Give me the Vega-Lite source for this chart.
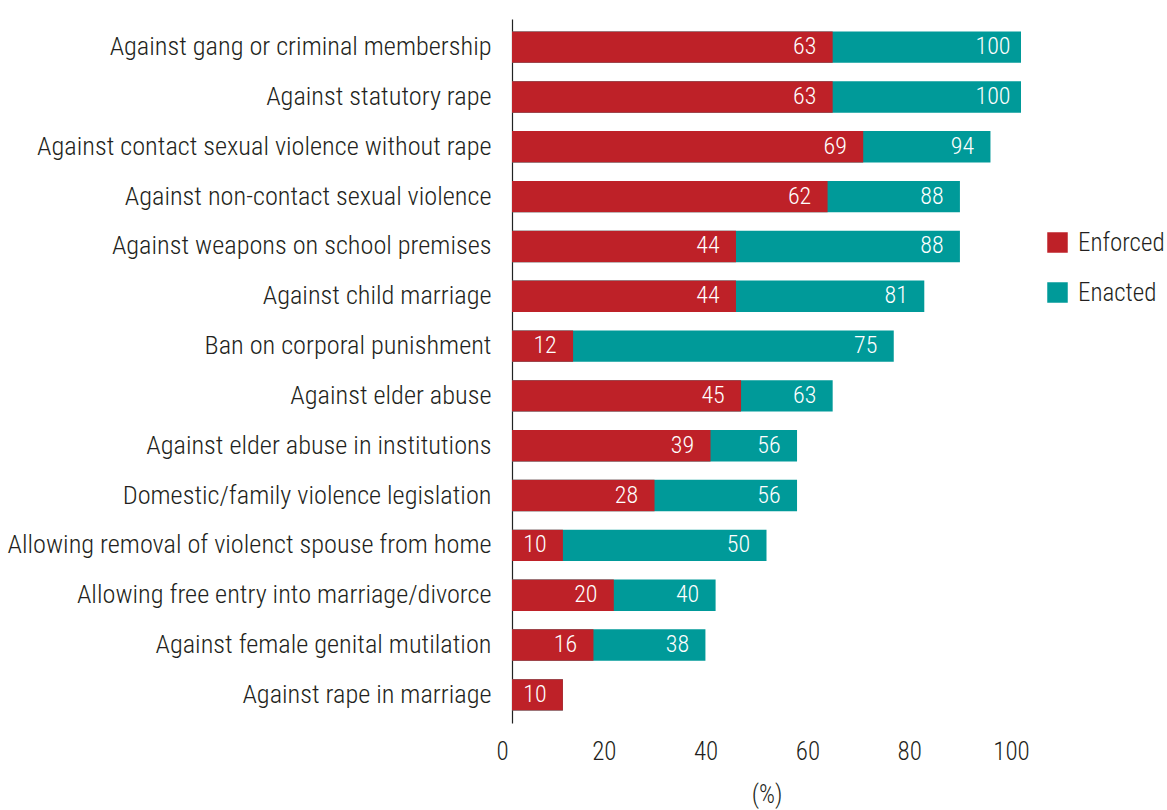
{
  "$schema": "https://vega.github.io/schema/vega-lite/v6.json",
  "autosize": "none",
  "width": 509,
  "height": 704,
  "padding": {"left": 512, "top": 19, "right": 146, "bottom": 87},
  "background": "white",
  "config": {
    "view": {"stroke": null},
    "font": "Roboto Condensed, DejaVu Sans Condensed, Liberation Sans Narrow, Roboto, sans-serif"
  },
  "data": {
    "values": [
      {"policy": "Against gang or criminal membership", "Enforced": 63, "Enacted": 100},
      {"policy": "Against statutory rape", "Enforced": 63, "Enacted": 100},
      {"policy": "Against contact sexual violence without rape", "Enforced": 69, "Enacted": 94},
      {"policy": "Against non-contact sexual violence", "Enforced": 62, "Enacted": 88},
      {"policy": "Against weapons on school premises", "Enforced": 44, "Enacted": 88},
      {"policy": "Against child marriage", "Enforced": 44, "Enacted": 81},
      {"policy": "Ban on corporal punishment", "Enforced": 12, "Enacted": 75},
      {"policy": "Against elder abuse", "Enforced": 45, "Enacted": 63},
      {"policy": "Against elder abuse in institutions", "Enforced": 39, "Enacted": 56},
      {"policy": "Domestic/family violence legislation", "Enforced": 28, "Enacted": 56},
      {"policy": "Allowing removal of violenct spouse from home", "Enforced": 10, "Enacted": 50},
      {"policy": "Allowing free entry into marriage/divorce", "Enforced": 20, "Enacted": 40},
      {"policy": "Against female genital mutilation", "Enforced": 16, "Enacted": 38},
      {"policy": "Against rape in marriage", "Enforced": 10, "Enacted": 10}
    ]
  },
  "transform": [{"fold": ["Enacted", "Enforced"], "as": ["type", "value"]}],
  "encoding": {
    "y": {
      "field": "policy",
      "type": "nominal",
      "sort": null,
      "scale": {"paddingInner": 0.37, "paddingOuter": 0.25},
      "axis": {
        "title": null,
        "ticks": false,
        "domainColor": "#222222",
        "domainWidth": 1.2,
        "labelFontSize": 26.3,
        "labelFontWeight": 300,
        "labelColor": "#231f20",
        "labelPadding": 21,
        "labelLimit": 600
      }
    },
    "x": {
      "field": "value",
      "type": "quantitative",
      "stack": null,
      "scale": {"domain": [0, 100], "nice": false},
      "axis": {
        "title": "(%)",
        "values": [0, 20, 40, 60, 80, 100],
        "domain": false,
        "ticks": false,
        "grid": false,
        "labelFlush": false,
        "labelFontSize": 25,
        "labelFontWeight": 300,
        "labelColor": "#231f20",
        "labelPadding": 16,
        "labelOffset": -10,
        "titleFontSize": 25,
        "titleFontWeight": 300,
        "titleColor": "#231f20",
        "titlePadding": 18
      }
    }
  },
  "layer": [
    {
      "mark": {"type": "bar"},
      "encoding": {
        "color": {
          "field": "type",
          "type": "nominal",
          "scale": {"domain": ["Enforced", "Enacted"], "range": ["#be2128", "#009a99"]},
          "legend": {
            "title": null,
            "orient": "none",
            "legendX": 533,
            "legendY": 211,
            "symbolType": "square",
            "symbolSize": 420,
            "symbolStrokeWidth": 0,
            "labelFontSize": 25,
            "labelFontWeight": 300,
            "labelColor": "#231f20",
            "labelOffset": 8,
            "rowPadding": 24
          }
        }
      }
    },
    {
      "transform": [{"filter": "datum.type == 'Enforced' || datum.Enacted != datum.Enforced"}],
      "mark": {"type": "text", "color": "white", "fontSize": 24, "fontWeight": 300, "align": "center", "baseline": "middle", "dx": -28},
      "encoding": {"text": {"field": "value", "type": "quantitative"}}
    }
  ]
}
